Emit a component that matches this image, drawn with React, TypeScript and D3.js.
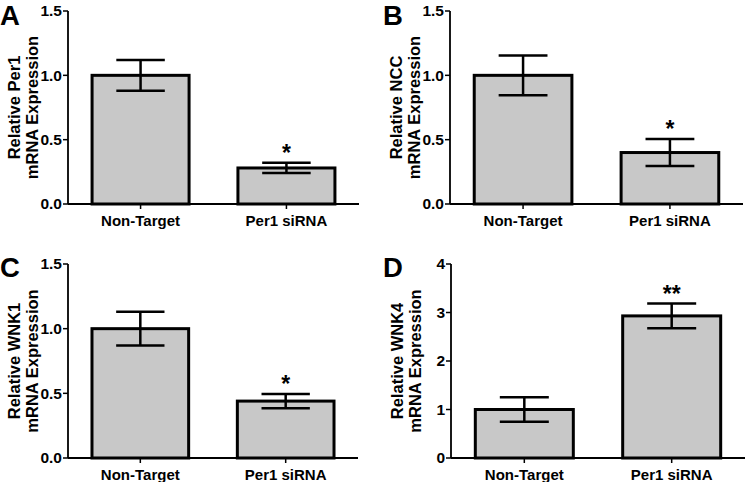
import React from "react";
import * as d3 from "d3";

const panelLetters = ["A", "B", "C", "D"];
const categories = ["Non-Target", "Per1 siRNA"];
const yLabelLine1 = ["Relative Per1", "Relative NCC", "Relative WNK1", "Relative WNK4"];
const yLabelLine2 = "mRNA Expression";
const meansA = [1.0, 0.28];
const errA = [0.12, 0.04];
const meansB = [1.0, 0.4];
const errB = [0.155, 0.105];
const meansC = [1.0, 0.44];
const errC = [0.13, 0.055];
const meansD = [1.0, 2.93];
const errD = [0.255, 0.255];
const yMaxes = [1.5, 1.5, 1.5, 4];
const ticks15 = [0, 0.5, 1.0, 1.5];
const ticks4 = [0, 1, 2, 3, 4];
const stars = ["*", "*", "*", "**"];

const allMeans = [meansA, meansB, meansC, meansD];
const allErr = [errA, errB, errC, errD];
const allTicks = [ticks15, ticks15, ticks15, ticks4];
const tickFormats = [".1f", ".1f", ".1f", "d"];

// layout (pixel frames of each panel's plot area)
const frames = [
  { x0: 68, x1: 359, y0: 11, y1: 204 },
  { x0: 450, x1: 743, y0: 11, y1: 204 },
  { x0: 68, x1: 358, y0: 264, y1: 458 },
  { x0: 451, x1: 745, y0: 264, y1: 458 },
];

const FONT = "'Liberation Sans', Arial, Helvetica, sans-serif";
const BAR_FILL = "#c8c8c8";

function Panel({ i }: { i: number }) {
  const f = frames[i];
  const x = d3
    .scaleBand<string>()
    .domain(categories)
    .range([f.x0, f.x1])
    .paddingInner(0.335)
    .paddingOuter(0.165);
  const y = d3.scaleLinear().domain([0, yMaxes[i]]).range([f.y1, f.y0]);
  const fmt = d3.format(tickFormats[i]);
  const bw = x.bandwidth();
  const midY = (f.y0 + f.y1) / 2;
  const letterY = i < 2 ? 25 : 277;
  return (
    <g>
      {/* panel letter */}
      <text
        x={i % 2 === 0 ? 0 : 383}
        y={letterY}
        fontFamily={FONT}
        fontWeight="bold"
        fontSize={27.5}
        fill="#000"
      >
        {panelLetters[i]}
      </text>
      {/* y label */}
      <text
        transform={`translate(${f.x0 - 48},${midY}) rotate(-90)`}
        textAnchor="middle"
        fontFamily={FONT}
        fontWeight="bold"
        fontSize={16.5}
      >
        {yLabelLine1[i]}
      </text>
      <text
        transform={`translate(${f.x0 - 30},${midY}) rotate(-90)`}
        textAnchor="middle"
        fontFamily={FONT}
        fontWeight="bold"
        fontSize={16.5}
      >
        {yLabelLine2}
      </text>
      {/* bars */}
      {categories.map((c, j) => {
        const m = allMeans[i][j];
        const e = allErr[i][j];
        const bx = x(c)!;
        const cx = bx + bw / 2;
        return (
          <g key={c}>
            <rect
              x={bx}
              y={y(m)}
              width={bw}
              height={f.y1 - y(m)}
              fill={BAR_FILL}
              stroke="#000"
              strokeWidth={3}
            />
            <line x1={cx} x2={cx} y1={y(m + e)} y2={y(m - e)} stroke="#000" strokeWidth={2.5} />
            <line x1={cx - bw / 4} x2={cx + bw / 4} y1={y(m + e)} y2={y(m + e)} stroke="#000" strokeWidth={2.5} />
            <line x1={cx - bw / 4} x2={cx + bw / 4} y1={y(m - e)} y2={y(m - e)} stroke="#000" strokeWidth={2.5} />
            {j === 1 && (
              <text
                x={cx}
                y={y(m + e) - 2}
                textAnchor="middle"
                fontFamily={FONT}
                fontWeight="bold"
                fontSize={23}
              >
                {stars[i]}
              </text>
            )}
            {/* x tick */}
            <line x1={cx} x2={cx} y1={f.y1} y2={f.y1 + 5} stroke="#000" strokeWidth={1.5} />
            <text
              x={cx}
              y={f.y1 + 22}
              textAnchor="middle"
              fontFamily={FONT}
              fontWeight="bold"
              fontSize={15}
            >
              {c}
            </text>
          </g>
        );
      })}
      {/* axes */}
      <line x1={f.x0} x2={f.x0} y1={f.y0} y2={f.y1} stroke="#000" strokeWidth={1.8} />
      <line x1={f.x0} x2={f.x1} y1={f.y1} y2={f.y1} stroke="#000" strokeWidth={1.8} />
      {allTicks[i].map((t) => (
        <g key={t}>
          <line x1={f.x0 - 5} x2={f.x0} y1={y(t)} y2={y(t)} stroke="#000" strokeWidth={1.5} />
          <text
            x={f.x0 - 6}
            y={y(t)}
            dy="0.35em"
            textAnchor="end"
            fontFamily={FONT}
            fontWeight="bold"
            fontSize={15.5}
          >
            {fmt(t)}
          </text>
        </g>
      ))}
    </g>
  );
}

export default function App() {
  return (
    <svg
      width={745}
      height={482}
      style={{ position: "absolute", left: 0, top: 0, background: "#fff" }}
    >
      <rect width={745} height={482} fill="#fff" />
      {[0, 1, 2, 3].map((i) => (
        <Panel key={i} i={i} />
      ))}
    </svg>
  );
}
